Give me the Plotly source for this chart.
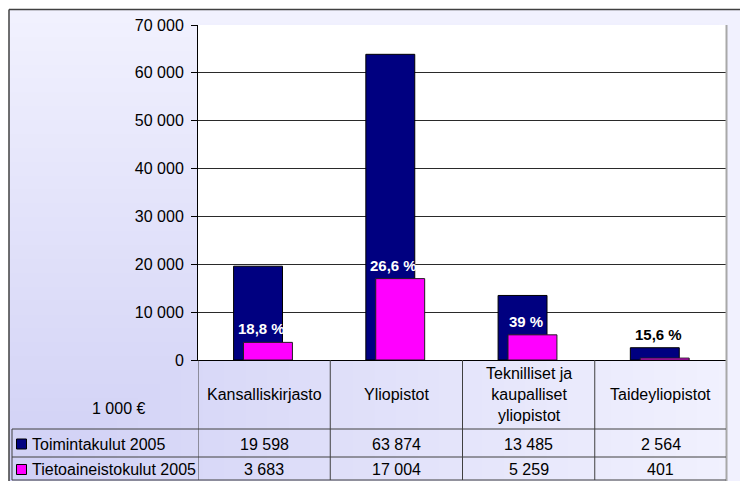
import plotly.graph_objects as go

# ---------------- data ----------------
categories = ["Kansalliskirjasto", "Yliopistot",
              "Teknilliset ja kaupalliset yliopistot", "Taideyliopistot"]
category_labels = ["Kansalliskirjasto", "Yliopistot",
                   "Teknilliset ja<br>kaupalliset<br>yliopistot", "Taideyliopistot"]
series_names = ["Toimintakulut 2005", "Tietoaineistokulut 2005"]
toimintakulut = [19598, 63874, 13485, 2564]
tietoaineistokulut = [3683, 17004, 5259, 401]
share_labels = ["18,8 %", "26,6 %", "39 %", "15,6 %"]
share_label_colors = ["white", "white", "white", "black"]
y_tick_values = [0, 10000, 20000, 30000, 40000, 50000, 60000, 70000]
unit_label = "1 000 €"

NAVY = "#000080"
MAGENTA = "#ff00ff"
FONT = "Liberation Sans, Arial, sans-serif"

# the page body margin is removed in post_script, so figure px == page px
W, H = 740, 481
PL, PR, PT, PB = 198, 727, 25, 360          # plot area in pixels
ML, MR, MT, MB = PL, W - PR, PT, H - PB
PW = PR - PL
PH = PB - PT


def fx(px):
    return (px - PL) / PW


def fy(py):
    return (PB - py) / PH


def fmt(v):
    return f"{v:,}".replace(",", " ")


xs = list(range(len(categories)))

fig = go.Figure()
fig.add_trace(go.Bar(
    x=xs, y=toimintakulut, name=series_names[0],
    width=0.37, offset=-0.231,
    marker=dict(color=NAVY, line=dict(color="black", width=1)),
    hoverinfo="skip",
))
fig.add_trace(go.Bar(
    x=xs, y=tietoaineistokulut, name=series_names[1],
    width=0.37, offset=-0.156,
    marker=dict(color=MAGENTA, line=dict(color="#202020", width=1)),
    hoverinfo="skip",
))

shapes = []
# background gradient (darkest at bottom-left corner, lighter to top and right)
light = (241, 241, 254)
dark = (208, 208, 245)
steps = 34
bx0, by0, bx1, by1 = 9, 9, 740, 481
for k in range(steps):
    c = k / steps
    col = tuple(round(light[j] + (dark[j] - light[j]) * (c + 0.5 / steps)) for j in range(3))
    shapes.append(dict(
        type="rect", xref="paper", yref="paper", layer="below",
        x0=fx(bx0), x1=fx(bx1 - c * (bx1 - bx0)),
        y0=fy(by1), y1=fy(by0 + c * (by1 - by0)),
        fillcolor="rgb(%d,%d,%d)" % col, line=dict(width=0),
    ))
# white plot area
shapes.append(dict(type="rect", xref="paper", yref="paper", layer="below",
                   x0=0, x1=1, y0=0, y1=1, fillcolor="white", line=dict(width=0)))
# outer frame
shapes.append(dict(type="line", xref="paper", yref="paper", x0=fx(9), x1=fx(740),
                   y0=fy(9.5), y1=fy(9.5), line=dict(color="#404040", width=1.5)))
shapes.append(dict(type="line", xref="paper", yref="paper", x0=fx(9), x1=fx(9),
                   y0=fy(9.5), y1=fy(481), line=dict(color="#404040", width=1.5)))
# right grey border of plot area and table
shapes.append(dict(type="line", xref="paper", yref="paper", x0=fx(726.5), x1=fx(726.5),
                   y0=fy(25), y1=fy(481), line=dict(color="#a8a8a8", width=2)))

# data table lines
TC = "#404040"
row_top, row1, row2, row_bot = 360, 429, 457, 480
for i in range(len(categories)):
    shapes.append(dict(type="line", xref="x", yref="paper", x0=i - 0.5, x1=i - 0.5,
                       y0=fy(row_top), y1=fy(row_bot), line=dict(color=TC, width=1)))
for yy in (row1, row2, row_bot):
    shapes.append(dict(type="line", xref="paper", yref="paper", x0=fx(12), x1=fx(726),
                       y0=fy(yy), y1=fy(yy), line=dict(color=TC, width=1)))
shapes.append(dict(type="line", xref="paper", yref="paper", x0=fx(12), x1=fx(12),
                   y0=fy(row1), y1=fy(row_bot), line=dict(color=TC, width=1)))

# legend keys in the table
row_centers = [(row1 + row2) / 2 + 1, (row2 + row_bot) / 2 + 1]
key_colors = [NAVY, MAGENTA]
for rc, kc in zip(row_centers, key_colors):
    shapes.append(dict(type="rect", xref="paper", yref="paper",
                       x0=fx(16.5), x1=fx(26.5), y0=fy(rc + 5), y1=fy(rc - 5),
                       fillcolor=kc, line=dict(color="black", width=1)))

annotations = []
# percentage labels (white ones sit on the magenta bar, black one on the navy bar)
for i in xs:
    base = tietoaineistokulut[i] if share_label_colors[i] == "white" else toimintakulut[i]
    annotations.append(dict(
        x=i - 0.02, y=base, xref="x", yref="y",
        text="<b>%s</b>" % share_labels[i], showarrow=False,
        yanchor="bottom", yshift=3,
        font=dict(family=FONT, size=15, color=share_label_colors[i]),
    ))
# category header
for i in xs:
    annotations.append(dict(
        x=i, y=fy((row_top + row1) / 2), xref="x", yref="paper",
        text=category_labels[i], showarrow=False, yanchor="middle",
        font=dict(family=FONT, size=16, color="black"),
    ))
# unit label
annotations.append(dict(x=fx(90), y=fy(408), xref="paper", yref="paper",
                        text=unit_label, showarrow=False, yanchor="middle",
                        font=dict(family=FONT, size=16, color="black")))
# row names and values
for rc, name, vals in zip(row_centers, series_names, [toimintakulut, tietoaineistokulut]):
    annotations.append(dict(x=fx(30), y=fy(rc), xref="paper", yref="paper",
                            text=name, showarrow=False, xanchor="left", yanchor="middle",
                            font=dict(family=FONT, size=16, color="black")))
    for i in xs:
        annotations.append(dict(x=i, y=fy(rc), xref="x", yref="paper",
                                text=fmt(vals[i]), showarrow=False, yanchor="middle",
                                font=dict(family=FONT, size=16, color="black")))

fig.update_layout(
    width=W, height=H,
    margin=dict(l=ML, r=MR, t=MT, b=MB, pad=0),
    paper_bgcolor="white", plot_bgcolor="rgba(0,0,0,0)",
    barmode="overlay", showlegend=False, bargap=0,
    shapes=shapes, annotations=annotations,
    font=dict(family=FONT, size=16, color="black"),
)
fig.update_xaxes(range=[-0.5, len(categories) - 0.5], showticklabels=False,
                 showgrid=False, zeroline=False, showline=True,
                 linecolor="black", linewidth=1, ticks="", fixedrange=True)
fig.update_yaxes(range=[0, 70000], tickvals=y_tick_values,
                 ticktext=[fmt(v) for v in y_tick_values],
                 showgrid=True, gridcolor="#2a2a2a", gridwidth=1,
                 zeroline=False, showline=True, linecolor="black", linewidth=1,
                 ticks="outside", ticklen=6, tickcolor="black", tickwidth=1,
                 ticklabelstandoff=4,
                 tickfont=dict(family=FONT, size=16, color="black"), fixedrange=True)

fig.write_html(
    "out.html",
    config={"displayModeBar": False, "staticPlot": True},
    post_script="document.body.style.margin='0';document.body.style.overflow='hidden';",
)
